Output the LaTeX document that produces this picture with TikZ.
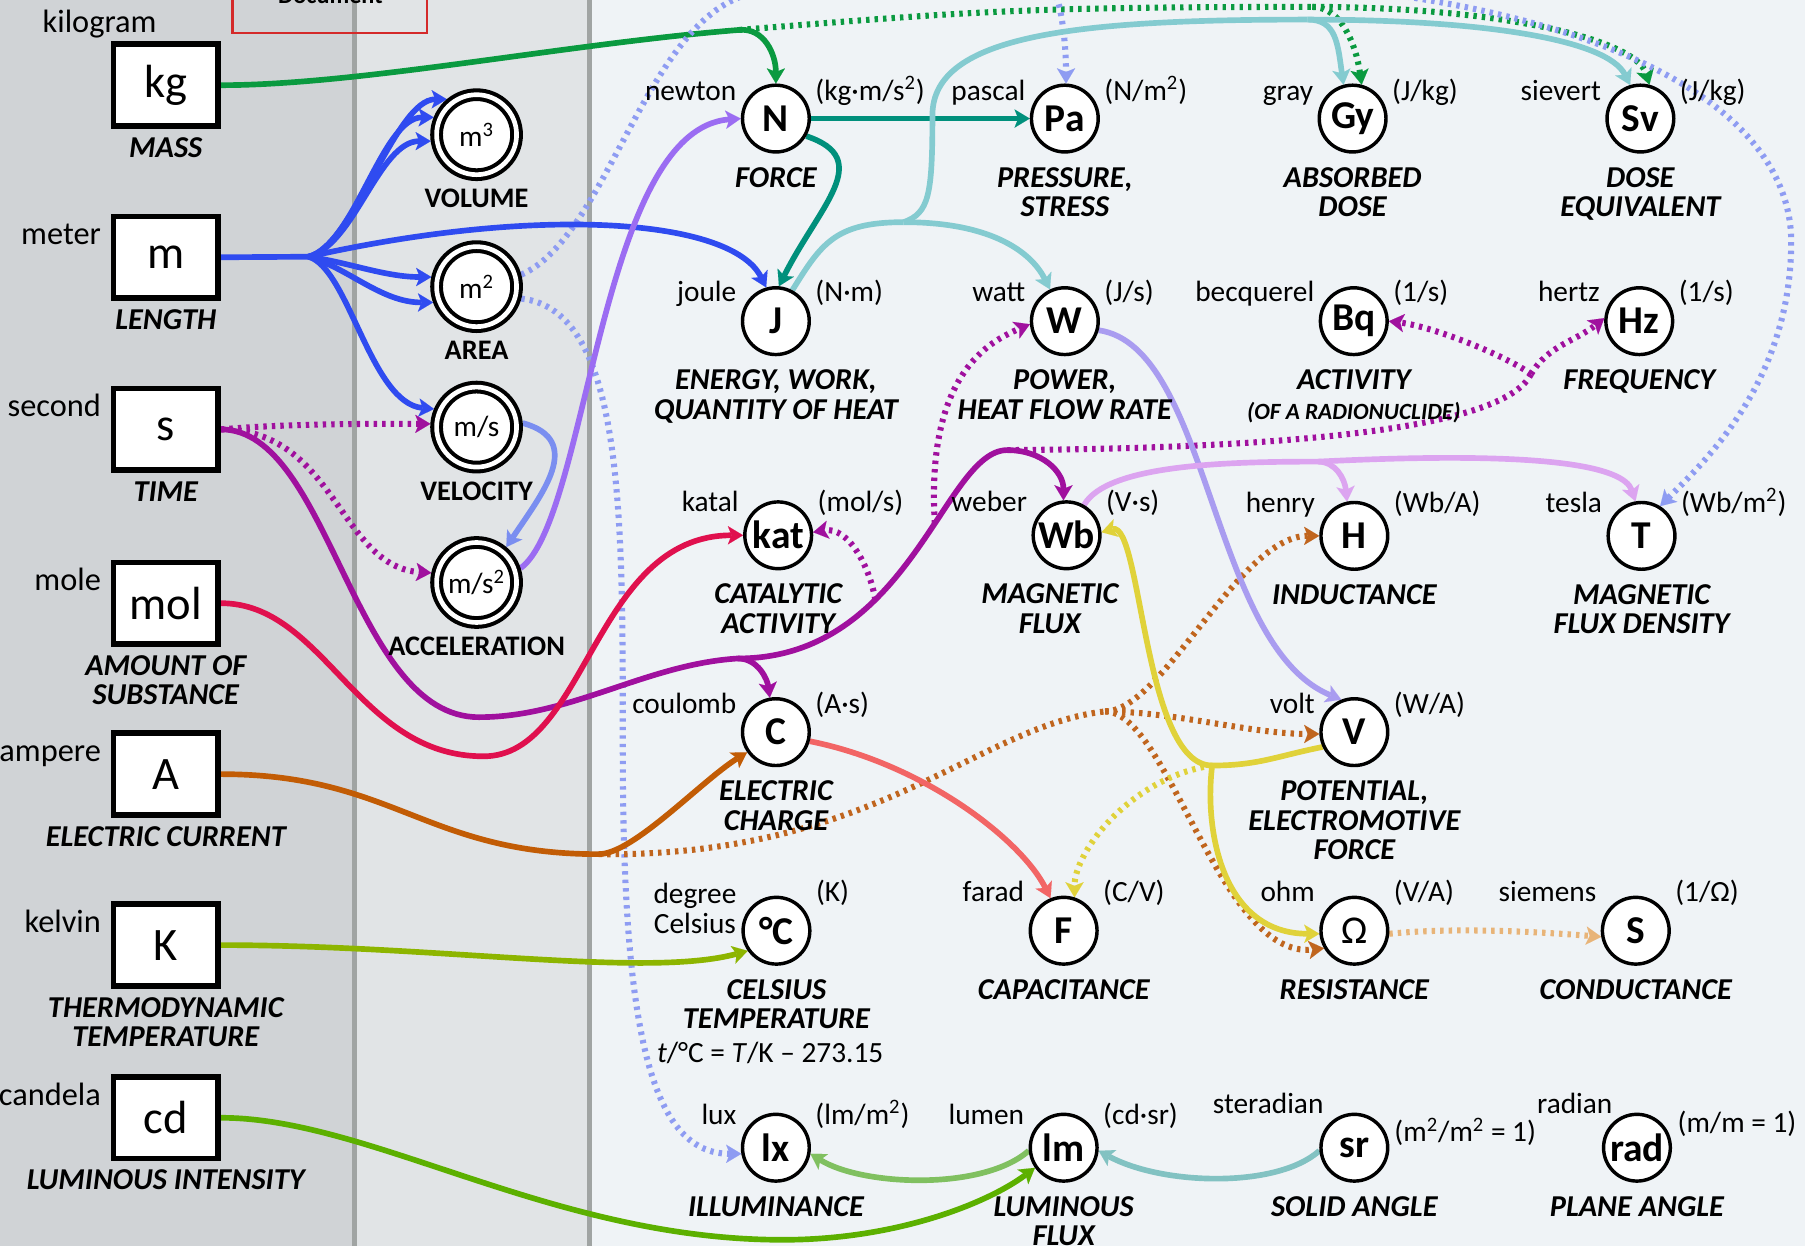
\documentclass[tikz,border=0pt]{standalone}
\usepackage{fontspec}
\setmainfont{Carlito}
\usepackage{xcolor}
\usepackage{tikz}
\usetikzlibrary{positioning,arrows.meta,calc}
\definecolor{pnlL}{HTML}{D0D3D6}
\definecolor{pnlM}{HTML}{E1E4E6}
\definecolor{pnlR}{HTML}{EFF3F6}
\definecolor{sepgray}{HTML}{A0A4A3}
\definecolor{docred}{HTML}{D42A2A}
\definecolor{cKg}{HTML}{0A9A40}
\definecolor{cM}{HTML}{2F4BF0}
\definecolor{cMs}{HTML}{7A8EF0}
\definecolor{cAcc}{HTML}{9B6CF2}
\definecolor{cS}{HTML}{A0109E}
\definecolor{cMol}{HTML}{E0104E}
\definecolor{cAmp}{HTML}{C25C05}
\definecolor{cAmpDot}{HTML}{C0651E}
\definecolor{cKel}{HTML}{8DB500}
\definecolor{cCd}{HTML}{5CB000}
\definecolor{cN}{HTML}{00907C}
\definecolor{cJ}{HTML}{84CBD0}
\definecolor{cW}{HTML}{A99CF0}
\definecolor{cWb}{HTML}{DCA4F0}
\definecolor{cC}{HTML}{F26565}
\definecolor{cV}{HTML}{E0D23A}
\definecolor{cLm}{HTML}{80C060}
\definecolor{cSr}{HTML}{82C2C2}
\definecolor{cArea}{HTML}{8E9CF2}
\definecolor{cOhm}{HTML}{E8B478}
\pgfdeclarelayer{panels}
\pgfdeclarelayer{links}
\pgfsetlayers{panels,links,main}
\tikzset{
  basebox/.style={draw,line width=2.8pt,fill=white,minimum width=1.82cm,minimum height=1.42cm,inner sep=0pt,font=\fontsize{23}{26}\selectfont},
  basename/.style={anchor=base east,inner sep=0pt,font=\fontsize{16}{18}\selectfont},
  qty/.style={anchor=north,inner sep=0pt,align=center,font=\bfseries\itshape\fontsize{15}{14.5}\selectfont},
  mcirc/.style={circle,draw,line width=2pt,double=white,double distance=2.3pt,fill=white,minimum size=1.39cm,inner sep=0pt,outer sep=3.1pt,font=\fontsize{14.5}{16}\selectfont},
  mqty/.style={anchor=north,inner sep=0pt,font=\bfseries\fontsize{14}{16}\selectfont},
  dcirc/.style={circle,draw,line width=1.7pt,fill=white,minimum size=1.16cm,inner sep=0pt,font=\bfseries\fontsize{19.5}{22}\selectfont},
  uname/.style={inner sep=0pt,font=\fontsize{14.5}{14.5}\selectfont},
  lnk/.style={line width=2.8pt,-{Stealth[length=7.5pt,width=9pt,inset=1.8pt,line width=0.01pt]}},
  lnkplain/.style={line width=2.8pt},
  dot/.style={line width=3pt,dash pattern=on 1.7pt off 2.5pt,-{Stealth[length=7.5pt,width=9pt,inset=1.8pt,line width=0.01pt]}},
  dotplain/.style={line width=3pt,dash pattern=on 1.7pt off 2.5pt},
}
\newcommand{\baseunit}[5]{%
  \node[basebox] (#2) at (144,#1) {#3};
  \node[basename] at (88,{#1-11}) {#4};
  \node[qty] at (144,{#1+45}) {#5};}
\newcommand{\munit}[4]{%
  \node[mcirc] (#2) at (414,#1) {#3};
  \node[mqty] at (414,{#1+47}) {#4};}
\newcommand{\dunit}[8][16]{%
  \node[dcirc] (#4) at (#2,#3) {#5};
  \node[uname,anchor=base east] at ({#2-34},{#3-#1}) {#6};
  \node[uname,anchor=base west] at ({#2+34},{#3-#1}) {#7};
  \node[qty] at (#2,{#3+42}) {#8};}

\begin{document}
\begin{tikzpicture}[x=0.02cm,y=-0.02cm]
\useasboundingbox (0,0) rectangle (1568,1082);
\begin{pgfonlayer}{panels}
  \fill[pnlL] (0,0) rectangle (308,1082);
  \fill[pnlM] (308,0) rectangle (512,1082);
  \fill[pnlR] (512,0) rectangle (1568,1082);
  \draw[sepgray,line width=2.2pt] (308,0) -- (308,1082);
  \draw[sepgray,line width=2.2pt] (512,0) -- (512,1082);
\end{pgfonlayer}
\draw[docred,line width=1.1pt] (202,-20) rectangle (371,29);
\node[anchor=base,inner sep=0pt,font=\bfseries\fontsize{12}{14}\selectfont] (doc) at (287,3) {Document};

\baseunit{74}{kg}{kg}{}{MASS}
\node[basename,anchor=base] at (86.5,28) {kilogram};
\baseunit{223.5}{m}{m}{meter}{LENGTH}
\baseunit{373}{s}{s}{second}{TIME}
\baseunit{524}{mol}{mol}{mole}{AMOUNT OF\\SUBSTANCE}
\baseunit{672.5}{A}{A}{ampere}{ELECTRIC CURRENT}
\baseunit{821}{K}{K}{kelvin}{THERMODYNAMIC\\TEMPERATURE}
\baseunit{971}{cd}{cd}{candela}{LUMINOUS INTENSITY}

\munit{117}{m3}{m\textsuperscript{3}}{VOLUME}
\munit{249}{m2}{m\textsuperscript{2}}{AREA}
\munit{371}{ms}{m/s}{VELOCITY}
\munit{506}{ms2}{m/s\textsuperscript{2}}{ACCELERATION}

\dunit{674}{103}{N}{N}{newton}{(kg·m/s\textsuperscript{2})}{FORCE}
\dunit{925}{103}{Pa}{Pa}{pascal}{(N/m\textsuperscript{2})}{PRESSURE,\\STRESS}
\dunit{1175}{103}{Gy}{Gy}{gray}{(J/kg)}{ABSORBED\\DOSE}
\dunit{1425}{103}{Sv}{Sv}{sievert}{(J/kg)}{DOSE\\EQUIVALENT}
\dunit[17]{674}{279}{J}{J}{joule}{(N·m)}{ENERGY, WORK,\\QUANTITY OF HEAT}
\dunit[17]{925}{279}{W}{W}{watt}{(J/s)}{POWER,\\HEAT FLOW RATE}
\dunit[17]{1176}{279}{Bq}{Bq}{becquerel}{(1/s)}{ACTIVITY\\{\fontsize{11.5}{12}\selectfont(OF A RADIONUCLIDE)}}
\dunit[17]{1424}{279}{Hz}{Hz}{hertz}{(1/s)}{FREQUENCY}
\dunit[20.5]{676}{465}{kat}{kat}{katal}{(mol/s)}{CATALYTIC\\ACTIVITY}
\dunit[20.5]{926.5}{465}{Wb}{Wb}{weber}{(V·s)}{}
\node[qty] at (912,507) {MAGNETIC\\FLUX};
\dunit[20.5]{1176.5}{465.5}{H}{H}{henry}{(Wb/A)}{INDUCTANCE}
\dunit[20.5]{1426}{465.5}{T}{T}{tesla}{(Wb/m\textsuperscript{2})}{MAGNETIC\\FLUX DENSITY}
\dunit[16.5]{674}{636}{C}{C}{coulomb}{(A·s)}{ELECTRIC\\CHARGE}
\dunit[16.5]{1176.5}{636}{V}{V}{volt}{(W/A)}{POTENTIAL,\\ELECTROMOTIVE\\FORCE}
\dunit[25]{674.5}{808.5}{dC}{°C}{}{(K)}{CELSIUS\\TEMPERATURE}
\dunit[25]{924}{808.5}{F}{F}{farad}{(C/V)}{CAPACITANCE}
\dunit[25]{1176.5}{808.5}{Om}{\mdseries Ω}{ohm}{(V/A)}{RESISTANCE}
\dunit[25]{1421}{808.5}{S}{S}{siemens}{(1/Ω)}{CONDUCTANCE}
\dunit[20.5]{674}{997}{lx}{lx}{lux}{(lm/m\textsuperscript{2})}{ILLUMINANCE}
\dunit[20.5]{924}{997}{lm}{lm}{lumen}{(cd·sr)}{LUMINOUS\\FLUX}
\dunit{1176.5}{997}{sr}{sr}{}{}{SOLID ANGLE}
\dunit{1422}{997}{rad}{rad}{}{}{PLANE ANGLE}
\node[uname,anchor=base east] at (1150,967) {steradian};
\node[uname,anchor=base west] at (1211,992) {(m\textsuperscript{2}/m\textsuperscript{2} = 1)};
\node[uname,anchor=base east] at (1401,967) {radian};
\node[uname,anchor=base west] at (1457,984) {(m/m = 1)};
\node[uname,align=center,anchor=east] at (640,789) {degree\\Celsius};
\node[uname] at (669,915) {\textit{t}/°C = \textit{T}/K -- 273.15};

\coordinate (kgbend) at (642,26);
\coordinate (gjoin) at (1140,6);
\coordinate (mfan) at (268,223);
\coordinate (sbot) at (416,623);
\coordinate (sjoin) at (641,572);
\coordinate (shump) at (875,391);
\coordinate (bqj) at (1330,325);
\coordinate (molbot) at (420,657);
\coordinate (abot) at (520,742);
\coordinate (bj) at (960,618);
\coordinate (yj) at (1053,665);
\coordinate (hj) at (1145,401);
\coordinate (jj) at (785,193);
\coordinate (jtop) at (810,100);
\coordinate (gj2) at (1136,17);
\coordinate (mtop) at (650,-5);
\coordinate (ptj) at (905,-20);
\coordinate (rside) at (1556,210);
\coordinate (lxside) at (541,650);
\coordinate (cdbot) at (680,1077);

\begin{pgfonlayer}{links}
\draw[dotplain,cKg] (kgbend) .. controls +(200,-16) and +(-250,0) .. (gjoin);
\draw[dot,cKg] (gjoin) .. controls +(25,0) and +(-5,-35) .. (Gy.75);
\draw[dot,cKg] (gjoin) .. controls +(160,0) and +(-12,-40) .. (Sv.75);
\draw[lnk,cKg] (kg.east) .. controls +(120,0) and +(-150,12) .. (kgbend) .. controls +(22,-2) and +(0,-25) .. (N.north);

\draw[dotplain,cArea] (m2.15) .. controls +(75,-33) and +(-90,25) .. (mtop);
\draw[dotplain,cArea] (mtop) .. controls +(120,-30) and +(-60,0) .. (ptj);
\draw[dot,cArea] (ptj) .. controls +(15,0) and +(0,-40) .. (Pa.88);
\draw[dot,cArea] (ptj) .. controls +(450,-10) and +(0,-130) .. (rside) .. controls +(0,120) and +(40,-40) .. (T.58);
\draw[dot,cArea] (m2.345) .. controls +(90,10) and +(0,-200) .. (lxside) .. controls +(0,240) and +(-80,0) .. (lx.190);

\draw[lnkplain,cM] (m.east) -- (mfan);
\foreach \a in {130,158,188}
  \draw[lnk,cM] (mfan) .. controls +(40,-10) and +(-45,0) .. (m3.\a);
\draw[lnk,cM] (mfan) .. controls +(35,5) and +(-40,0) .. (m2.168);
\draw[lnk,cM] (mfan) .. controls +(35,10) and +(-45,0) .. (m2.200);
\draw[lnk,cM] (mfan) .. controls +(35,10) and +(-55,-5) .. (ms.157);
\draw[lnk,cM] (mfan) .. controls +(200,-45) and +(-30,-60) .. (J.106);
\draw[lnk,cMs] (ms.5) .. controls +(55,15) and +(30,-45) .. (ms2.50);
\draw[lnk,cAcc] (ms2.18) .. controls +(59,-43) and +(-123,9) .. (N.180);

\draw[dot,cS] (s.east) .. controls +(60,-5) and +(-60,0) .. (ms.176);
\draw[dot,cS] (s.east) .. controls +(100,0) and +(-80,-5) .. (ms2.168);
\draw[lnk,cS] (s.east) .. controls +(95,0) and +(-110,0) .. (sbot)
  .. controls +(80,0) and +(-80,5) .. (sjoin)
  .. controls +(150,0) and +(-55,0) .. (shump) coordinate[pos=0.35] (sdk) coordinate[pos=0.6] (sdw)
  .. controls +(30,0) and +(0,-25) .. (Wb.95);
\draw[lnk,cS] (sjoin) .. controls +(18,0) and +(-2,-15) .. (C.100);
\draw[dot,cS] (sdk) .. controls +(-5,-30) and +(30,-5) .. (kat.5);
\draw[dot,cS] (sdw) .. controls +(-8,-130) and +(-35,15) .. (W.185);
\draw[dotplain,cS] (shump) .. controls +(300,-2) and +(-20,40) .. (bqj);
\draw[dot,cS] (bqj) .. controls +(-20,-15) and +(40,5) .. (Bq.0);
\draw[dot,cS] (bqj) .. controls +(15,-25) and +(-25,20) .. (Hz.175);

\draw[lnk,cMol] (mol.east) .. controls +(90,0) and +(-110,0) .. (molbot) .. controls +(90,0) and +(-130,0) .. (kat.west);

\draw[dotplain,cAmpDot] (abot) .. controls +(240,3) and +(-110,12) .. (bj);
\draw[dot,cAmpDot] (bj) .. controls +(60,0) and +(-60,0) .. (V.183);
\draw[dot,cAmpDot] (bj) .. controls +(50,0) and +(-70,0) .. (H.180);
\draw[dot,cAmpDot] (bj) .. controls +(55,0) and +(-90,10) .. (Om.210);
\draw[lnk,cAmp] (A.east) .. controls +(150,0) and +(-150,0) .. (abot) .. controls +(30,0) and +(-40,25) .. (C.215);

\draw[lnk,cC] (C.345) .. controls +(100,20) and +(-25,-50) .. (F.112);
\draw[dot,cV] (yj) .. controls +(-70,10) and +(0,-40) .. (F.72);
\draw[lnkplain,cV] (V.205) .. controls +(-40,8) and +(40,0) .. (yj);
\draw[lnk,cV] (yj) .. controls +(-60,0) and +(35,-10) .. (Wb.5);
\draw[lnk,cV] (yj) .. controls +(-7,55) and +(-85,0) .. (Om.185);
\draw[lnk,cW] (W.345) .. controls +(97,14) and +(-114,-47) .. (V.112);

\draw[lnkplain,cWb] (Wb.60) .. controls +(20,-35) and +(-80,0) .. (hj);
\draw[lnk,cWb] (hj) .. controls +(15,0) and +(-2,-20) .. (H.102);
\draw[lnk,cWb] (hj) .. controls +(200,-10) and +(-10,-30) .. (T.100);

\draw[lnk,cN] (N.east) -- (Pa.west);
\draw[lnk,cN] (N.330) .. controls +(60,20) and +(35,-70) .. (J.85);
\draw[lnkplain,cJ] (J.62) .. controls +(25,-40) and +(-60,0) .. (jj);
\draw[lnk,cJ] (jj) .. controls +(80,0) and +(-15,-30) .. (W.115);
\draw[lnkplain,cJ] (jj) .. controls +(22,-8) and +(0,70) .. (jtop) .. controls +(0,-70) and +(-200,0) .. (gj2);
\draw[lnk,cJ] (gj2) .. controls +(25,0) and +(-5,-35) .. (Gy.105);
\draw[lnk,cJ] (gj2) .. controls +(150,0) and +(-20,-40) .. (Sv.107);

\draw[lnk,cKel] (K.east) .. controls +(190,0) and +(-88,24) .. (dC.215);
\draw[lnk,cCd] (cd.east) .. controls +(130,0) and +(-200,0) .. (cdbot) .. controls +(100,0) and +(-40,30) .. (lm.215);
\draw[lnk,cLm] (lm.185) .. controls +(-40,35) and +(45,28) .. (lx.350);
\draw[lnk,cSr] (sr.185) .. controls +(-37,33) and +(55,30) .. (lm.355);
\draw[dot,cOhm] (Om.355) .. controls +(60,-6) and +(-50,-4) .. (S.190);
\end{pgfonlayer}
\end{tikzpicture}
\end{document}
